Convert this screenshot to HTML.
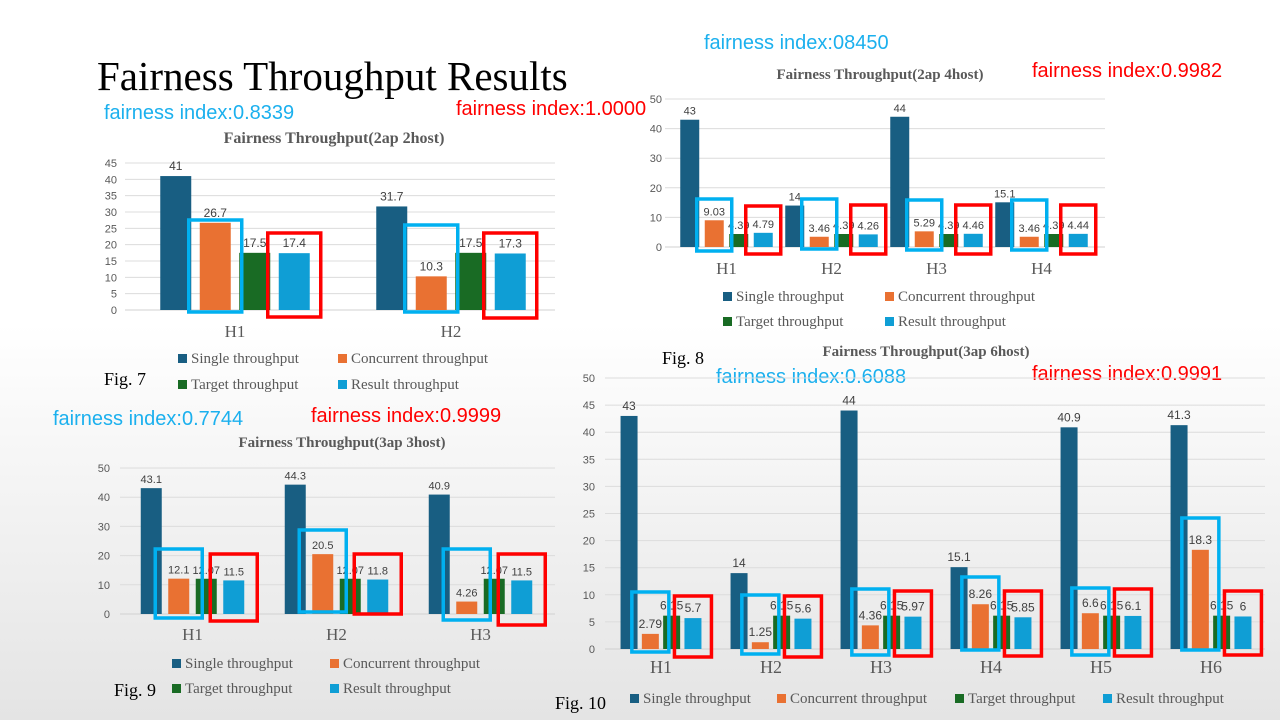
<!DOCTYPE html>
<html><head><meta charset="utf-8"><style>
html,body{margin:0;padding:0;}
body{width:1280px;height:720px;overflow:hidden;background:linear-gradient(#ffffff 0%,#ffffff 45%,#e4e4e4 100%);}
svg{display:block}
</style></head><body>
<svg id="slide" width="1280" height="720" xmlns="http://www.w3.org/2000/svg">
<text x="97" y="90" font-family="Liberation Serif, serif" font-size="41" fill="#000">Fairness Throughput Results</text>
<g font-family="Liberation Sans, sans-serif" font-size="20">
<text x="104" y="119" fill="#1BB0EE">fairness index:0.8339</text>
<text x="456" y="115" fill="#FF0000">fairness index:1.0000</text>
<text x="704" y="49" fill="#1BB0EE">fairness index:08450</text>
<text x="1032" y="77" fill="#FF0000">fairness index:0.9982</text>
<text x="716" y="383" fill="#1BB0EE">fairness index:0.6088</text>
<text x="1032" y="380" fill="#FF0000">fairness index:0.9991</text>
<text x="53" y="425" fill="#1BB0EE">fairness index:0.7744</text>
<text x="311" y="422" fill="#FF0000">fairness index:0.9999</text>
</g>
<g font-family="Liberation Serif, serif" font-size="18" fill="#000">
<text x="104" y="385">Fig. 7</text>
<text x="662" y="364">Fig. 8</text>
<text x="114" y="696">Fig. 9</text>
<text x="555" y="709">Fig. 10</text>
</g>
<g id="charts"></g>
</svg>
<script>
// Fig 7 data
const cats7 = ["H1","H2"];
const single7 = [41,31.7];
const concurrent7 = [26.7,10.3];
const target7 = [17.5,17.5];
const result7 = [17.4,17.3];
const ticks7 = [0,5,10,15,20,25,30,35,40,45];
// Fig 8 data
const cats8 = ["H1","H2","H3","H4"];
const single8 = [43,14,44,15.1];
const concurrent8 = [9.03,3.46,5.29,3.46];
const target8 = [4.39,4.39,4.39,4.39];
const result8 = [4.79,4.26,4.46,4.44];
const ticks8 = [0,10,20,30,40,50];
// Fig 9 data
const cats9 = ["H1","H2","H3"];
const single9 = [43.1,44.3,40.9];
const concurrent9 = [12.1,20.5,4.26];
const target9 = [12.07,12.07,12.07];
const result9 = [11.5,11.8,11.5];
const ticks9 = [0,10,20,30,40,50];
// Fig 10 data
const cats10 = ["H1","H2","H3","H4","H5","H6"];
const single10 = [43,14,44,15.1,40.9,41.3];
const concurrent10 = [2.79,1.25,4.36,8.26,6.6,18.3];
const target10 = [6.15,6.15,6.15,6.15,6.15,6.15];
const result10 = [5.7,5.6,5.97,5.85,6.1,6];
const ticks10 = [0,5,10,15,20,25,30,35,40,45,50];
const seriesNames = ["Single throughput","Concurrent throughput","Target throughput","Result throughput"];
const colors = ["#185E82","#E97132","#196B24","#0F9ED5"];

const NS="http://www.w3.org/2000/svg";
const root=document.getElementById('charts');
function mk(tag,attrs,parent){const e=document.createElementNS(NS,tag);for(const k in attrs)e.setAttribute(k,attrs[k]);(parent||root).appendChild(e);return e;}

function drawChart(c){
  const g=mk('g',{});
  
  
  const yMax=c.ticks[c.ticks.length-1];
  const ys=v=>c.y0-(v/yMax)*(c.y0-c.yTop);
  const catW=(c.x1-c.x0)/c.cats.length;
  const cx=i=>c.x0+catW*(i+0.5);
  const bx=(i,s)=>cx(i)-(c.step*3+c.barW)/2+s*c.step;
  const t=mk('text',{x:c.titleX,y:c.titleY,'text-anchor':'middle','font-family':'Liberation Serif, serif','font-weight':'bold','font-size':c.titleSize,fill:'#595959'},g);
  t.textContent=c.title;
  
  
  c.ticks.forEach(v=>{
    const l=mk('line',{x1:c.gx0,x2:c.gx1,y1:ys(v),y2:ys(v),stroke:v===0?'#d0d0d0':'#dcdcdc','stroke-width':1},g);
    
    
    const tl=mk('text',{x:c.tickX,y:ys(v)+4,'text-anchor':'end','font-family':'Liberation Sans, sans-serif','font-size':11,fill:'#595959'},g);
    tl.textContent=v;
    
    
  });
  c.series.forEach((arr,s)=>{
    arr.forEach((v,i)=>{
      const r=mk('rect',{x:bx(i,s),y:ys(v),width:c.barW,height:c.y0-ys(v),fill:colors[s]},g);
      
      
      const lb=mk('text',{x:bx(i,s)+c.barW/2,y:ys(v)-c.lblGap,'text-anchor':'middle','font-family':'Liberation Sans, sans-serif','font-size':c.lblSize,fill:'#404040'},g);
      lb.textContent=v;
      
      
    });
  });
  c.cats.forEach((n,i)=>{
    const ct=mk('text',{x:cx(i),y:c.catY,'text-anchor':'middle','font-family':'Liberation Serif, serif','font-size':c.catSize,fill:'#595959'},g);
    ct.textContent=n;
    
    
  });
  c.boxes.forEach(b=>{
    const pad=c.boxPad;
    const x=bx(b[0],b[1])-pad;
    const r=mk('rect',{x:x,y:b[2],width:c.barW+pad*2,height:b[3]-b[2],fill:'none',stroke:b[4],'stroke-width':3.5},g);
    
    
  });
  c.legend.forEach((p,s)=>{
    const sq=mk('rect',{x:p[0],y:p[1]-9,width:9,height:9,fill:colors[s]},g);
    
    
    const lt=mk('text',{x:p[0]+13,y:p[1],'font-family':'Liberation Serif, serif','font-size':c.legSize,fill:'#595959'},g);
    lt.textContent=seriesNames[s];
    
    
  });
}
const B='#00B0F0', R='#FF0000';
drawChart({id:'chart-fig7',title:'Fairness Throughput(2ap 2host)',titleX:334,titleY:143,titleSize:16,
  cats:cats7,series:[single7,concurrent7,target7,result7],ticks:ticks7,
  x0:127,x1:559,gx0:125,gx1:555,y0:310,yTop:163,tickX:117,barW:31,step:39.5,lblGap:6,lblSize:12,
  catY:337,catSize:17,boxPad:11,legSize:15,
  boxes:[[0,1,220,312,B],[0,3,233,317,R],[1,1,225,312,B],[1,3,233,318,R]],
  legend:[[178,363],[338,363],[178,389],[338,389]]});
drawChart({id:'chart-fig8',title:'Fairness Throughput(2ap 4host)',titleX:880,titleY:79,titleSize:15,
  cats:cats8,series:[single8,concurrent8,target8,result8],ticks:ticks8,
  x0:674,x1:1094,gx0:665,gx1:1105,y0:247,yTop:99,tickX:662,barW:19,step:24.5,lblGap:5,lblSize:11,
  catY:274,catSize:17,boxPad:8,legSize:15,
  boxes:[[0,1,199,251,B],[0,3,206,254,R],[1,1,199,249,B],[1,3,205,254,R],[2,1,200,250,B],[2,3,205,254,R],[3,1,200,250,B],[3,3,205,254,R]],
  legend:[[723,301],[885,301],[723,326],[885,326]]});
drawChart({id:'chart-fig9',title:'Fairness Throughput(3ap 3host)',titleX:342,titleY:447,titleSize:15,
  cats:cats9,series:[single9,concurrent9,target9,result9],ticks:ticks9,
  x0:120.5,x1:552.5,gx0:120,gx1:555,y0:614,yTop:468,tickX:110,barW:21,step:27.5,lblGap:5,lblSize:11,
  catY:640,catSize:17,boxPad:13,legSize:15,
  boxes:[[0,1,549,618,B],[0,3,554,621,R],[1,1,530,612,B],[1,3,554,614,R],[2,1,549,620,B],[2,3,554,625,R]],
  legend:[[172,668],[330,668],[172,693],[330,693]]});
drawChart({id:'chart-fig10',title:'Fairness Throughput(3ap 6host)',titleX:926,titleY:356,titleSize:15,
  cats:cats10,series:[single10,concurrent10,target10,result10],ticks:ticks10,
  x0:606,x1:1266,gx0:605,gx1:1265,y0:649,yTop:378,tickX:595,barW:17,step:21.3,lblGap:6,lblSize:12,
  catY:673,catSize:18,boxPad:10,legSize:15,
  boxes:[[0,1,592,652,B],[0,3,596,657,R],[1,1,595,654,B],[1,3,596,657,R],[2,1,589,655,B],[2,3,591,656,R],[3,1,577,650,B],[3,3,591,656,R],[4,1,588,655,B],[4,3,589,656,R],[5,1,518,650,B],[5,3,591,655,R]],
  legend:[[630,703],[777,703],[955,703],[1103,703]]});
</script>
</body></html>
